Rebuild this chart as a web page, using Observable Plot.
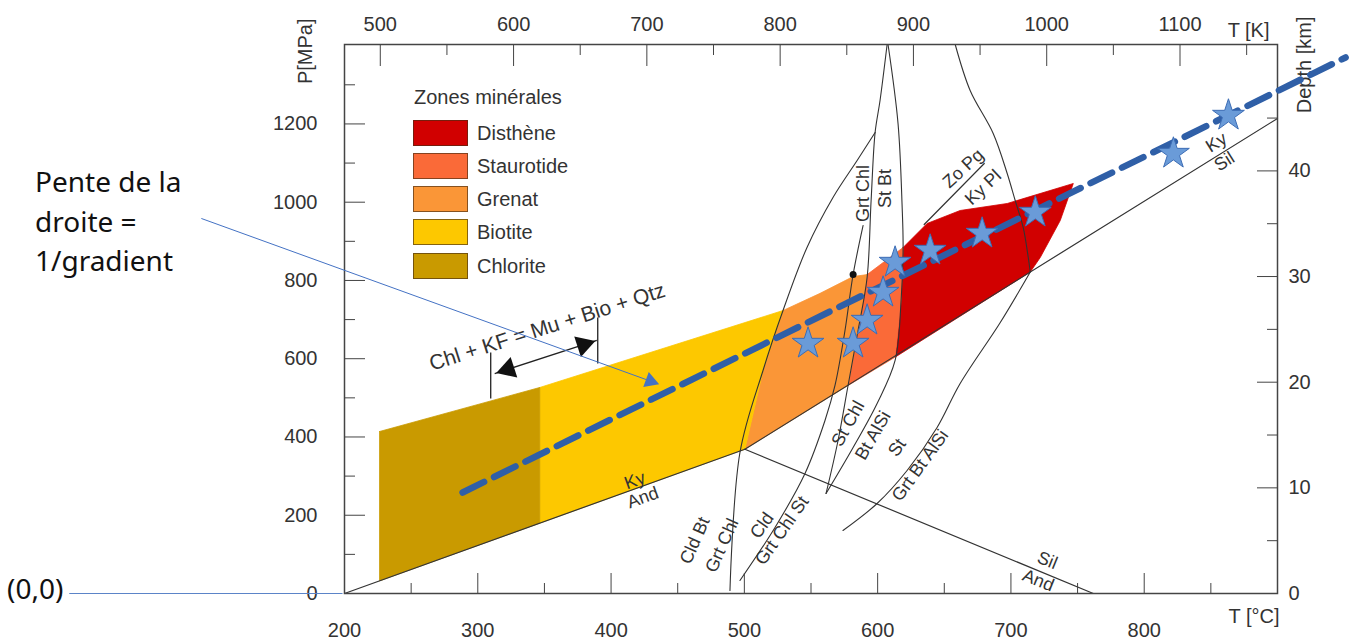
<!DOCTYPE html>
<html><head><meta charset="utf-8">
<script src="https://cdn.jsdelivr.net/npm/d3@7"></script>
<script src="https://cdn.jsdelivr.net/npm/@observablehq/plot@0.6"></script>
<style>
body{margin:0;background:#fff;}
#wrap{position:relative;width:1355px;height:641px;overflow:hidden;background:#fff;}
#wrap svg{position:absolute;left:0;top:0;}
.ann{position:absolute;font-family:'Noto Sans',sans-serif;font-size:28px;color:#111;white-space:nowrap;line-height:39.5px;}
.leg{position:absolute;font-family:'Liberation Sans',Arial,sans-serif;font-size:20px;color:#333;white-space:nowrap;line-height:20px;}
.sw{position:absolute;width:53px;height:24px;border:1px solid rgba(70,45,20,0.65);}
</style></head><body><div id="wrap"></div>
<script>
// ---------- axes ticks ----------
const tMajor = [200, 300, 400, 500, 600, 700, 800];
const tMinor = [250, 350, 450, 550, 650, 750, 850];
const pMajor = [0, 200, 400, 600, 800, 1000, 1200];
const pMinor = [100, 300, 500, 700, 900, 1100, 1300];
const kMajor = [500, 600, 700, 800, 900, 1000, 1100];
const kMinor = [550, 650, 750, 850, 950, 1050, 1150];
const depthMajor = [0, 10, 20, 30, 40];
const depthMinor = [5, 15, 25, 35, 45];
const K0 = 273.15;
const MPA_PER_KM = 27;

// ---------- zones (T °C, P MPa) ----------
const zoneNames = ["Disthène", "Staurotide", "Grenat", "Biotite", "Chlorite"];
const zoneColors = ["#d10000", "#fa6a38", "#fa9637", "#fdc800", "#c99a00"];
const chlorite = [[226.3, 414], [346.5, 526.5], [346.5, 179.8], [226.3, 32.3]];
const biotite = [[346.5, 526.5], [529.0, 723.2], [514.0, 569.9], [500.4, 368.6], [346.5, 179.8]];
const grenat = [[529.0, 723.2], [556.8, 767], [581.6, 810], [592.1, 815], [585.3, 672.1], [577.8, 531.6], [500.4, 368.6], [514.0, 569.9]];
const staurotide = [[592.1, 815], [619.1, 884.2], [617.6, 748.8], [613.1, 604], [577.8, 531.6], [585.3, 672.1]];
const disthene = [[619.1, 884.2], [637.1, 945.6], [661.9, 978.8], [697.2, 996.7], [746.8, 1047.8], [737.0, 953.2], [722.0, 858.7], [714.5, 821.5], [613.1, 604], [617.6, 748.8]];

// ---------- reaction lines ----------
const kyAnd = [[200, 0], [500.4, 368.6]];
const kySil = [[500.4, 368.6], [900, 1214]];
const silAnd = [[500.4, 368.6], [761.8, 0]];
const cldBtGrtChl = [[489.2, 7.7], [496.7, 360.3], [514.0, 569.9], [529.0, 723.2], [547.0, 884.2], [566.5, 1012.0], [584.6, 1106.6], [598.1, 1178.1]];
const cldGrtChlSt = [[496.7, 33.2], [523.0, 168.7], [545.5, 306.7], [560.5, 442.1], [568.0, 531.6], [575.5, 672.1], [581.6, 815.2], [589.1, 940.5]];
const grtChlStBt = [[607.1, 1403], [601.8, 1259.9], [598.1, 1178.1], [595.1, 1004.3], [592.1, 807.6], [585.3, 672.1], [577.8, 531.6], [570.3, 391.0], [561.3, 255.6]];
const stChlBtAlSi = [[561.3, 255.6], [581.6, 373.1], [599.6, 485.6], [613.1, 595.5], [617.6, 748.8], [619.1, 884.2], [618.4, 986.5], [615.3, 1201.1], [607.8, 1403]];
const stGrtBtLow = [[574.0, 161.0], [599.6, 230.0], [622.1, 314.3], [644.6, 424.2], [661.9, 536.7], [692.0, 692.6], [714.5, 821.5]];
const stGrtBtHigh = [[714.5, 821.5], [713.0, 858.7], [709.2, 935.4], [703.2, 1004.3], [697.2, 1073.3], [686.7, 1175.6], [669.4, 1285.5], [658.2, 1403]];
const zoPgKyPl = [[680.0, 1098.9], [634.9, 943.0]];
const invariantPoint = [[581.6, 815.2]];

// ---------- line labels ----------
const labelText = ["Ky", "And", "Ky", "Sil", "Sil", "And", "Cld Bt", "Grt Chl", "Cld", "Grt Chl St", "St Chl", "Bt AlSi", "St", "Grt Bt AlSi", "Grt Chl", "St Bt", "Zo Pg", "Ky Pl"];
const labelT = [417.8, 423.8, 854.2, 860.2, 727.3, 720.5, 462.9, 483.2, 513.2, 528.2, 577.8, 596.6, 614.6, 631.9, 589.1, 605.6, 664.2, 679.2];
const labelP = [288.8, 245.3, 1152.6, 1104.0, 84.3, 33.2, 135.4, 122.7, 173.8, 161.0, 434.4, 403.8, 373.1, 327.1, 1022.2, 1035.0, 1086.1, 1037.6];
const labelAngle = [-20, -20, -32, -32, 22, 22, -66, -66, -55, -55, -61, -60, -55, -54, -90, -90, -43, -43];

// ---------- Chl + KF reaction annotation ----------
const reactionText = "Chl + KF = Mu + Bio + Qtz";
const reactionPos = [[352.1, 681.1]];
const reactionBars = [[309.7, 615.9, 309.7, 498.3], [390.0, 705.3, 390.0, 587.8]];
const reactionArrow = [[312.7, 562.2, 389.3, 646.6]];
const reactionHeads = [[322.7, 573.2, -108], [379.3, 635.6, 72]];

// ---------- samples (stars) and gradient line ----------
const starT = [547.8, 581.6, 592.1, 604.1, 613.1, 639.4, 678.4, 718.3, 821.9, 863.2];
const starP = [638.9, 638.9, 697.7, 769.2, 845.9, 876.6, 920.0, 973.7, 1124.4, 1221.6];
const gradientLine = [[288.6, 258.1], [951.1, 1369.8]];

// ---------- outside annotations ----------
const penteLink = [[92.6, 958.4, 429.5, 542.8]];
const penteHead = [[429.5, 542.8, 110]];
const originLink = [[-6.5, 0, 198.5, 0]];

const close = a => a.concat([a[0]]);
const zonesPolys = [disthene, staurotide, grenat, biotite, chlorite];
const X = d => d[0], Y = d => d[1];
const ink = "#333";

const chart = Plot.plot({
  width: 1355, height: 641,
  marginLeft: 344, marginRight: 78, marginTop: 44, marginBottom: 48,
  x: {domain: [200, 900]},
  y: {domain: [0, 1403]},
  style: {fontFamily: "'Liberation Sans', Arial, sans-serif", fontSize: "20px", color: ink, background: "transparent", overflow: "visible"},
  marks: [
    ...zonesPolys.map((z, i) => Plot.line(close(z), {x: X, y: Y, fill: zoneColors[i], stroke: zoneColors[i], strokeWidth: 0.8})),
    ...[kyAnd, kySil, silAnd, zoPgKyPl].map(l => Plot.line(l, {x: X, y: Y, stroke: ink, strokeWidth: 1.2})),
    ...[cldBtGrtChl, cldGrtChlSt, grtChlStBt, stChlBtAlSi, stGrtBtLow, stGrtBtHigh].map(l => Plot.line(l, {x: X, y: Y, stroke: ink, strokeWidth: 1.1, curve: "catmull-rom"})),
    Plot.dot(invariantPoint, {x: X, y: Y, r: 3.5, fill: "#111"}),
    Plot.text(labelText.map((t, i) => i), {x: i => labelT[i], y: i => labelP[i], text: i => labelText[i], rotate: i => labelAngle[i], fontSize: 18, fill: ink}),
    Plot.text(reactionPos, {x: X, y: Y, text: () => reactionText, rotate: -17.7, fontSize: 21, fill: ink}),
    Plot.link(reactionBars, {x1: d => d[0], y1: d => d[1], x2: d => d[2], y2: d => d[3], stroke: "#222", strokeWidth: 1.3}),
    Plot.link(reactionArrow, {x1: d => d[0], y1: d => d[1], x2: d => d[2], y2: d => d[3], stroke: "#222", strokeWidth: 1.3}),
    Plot.dot(reactionHeads, {x: X, y: Y, rotate: d => d[2], symbol: "triangle", r: 8, fill: "#111", stroke: "none"}),
    Plot.frame({stroke: "#444", strokeWidth: 1.5}),
    // axes
    Plot.axisX(tMajor, {anchor: "bottom", tickSize: -20, tickPadding: 49, tickFormat: d => String(d), label: null, stroke: "#444", fill: ink}),
    Plot.axisX(tMinor, {anchor: "bottom", tickSize: -10, fill: "none", label: null, stroke: "#444"}),
    Plot.axisX(kMajor.map(k => k - K0), {anchor: "top", tickSize: -21, tickPadding: 35, tickFormat: d => String(Math.round(d + K0)), label: null, stroke: "#444", fill: ink}),
    Plot.axisX(kMinor.map(k => k - K0), {anchor: "top", tickSize: -10, fill: "none", label: null, stroke: "#444"}),
    Plot.axisY(pMajor, {anchor: "left", tickSize: -21, tickPadding: 48, tickFormat: d => String(d), label: null, stroke: "#444", fill: ink}),
    Plot.axisY(pMinor, {anchor: "left", tickSize: -11, fill: "none", label: null, stroke: "#444"}),
    Plot.axisY(depthMajor.map(d => d * MPA_PER_KM), {anchor: "right", tickSize: -21, tickPadding: 32, tickFormat: d => String(Math.round(d / MPA_PER_KM)), label: null, stroke: "#444", fill: ink}),
    Plot.axisY(depthMinor.map(d => d * MPA_PER_KM), {anchor: "right", tickSize: -11, fill: "none", label: null, stroke: "#444"}),
    Plot.text(["P[MPa]"], {frameAnchor: "top-left", dx: -47, dy: -26, rotate: -90, textAnchor: "end", text: d => d, fontSize: 20, fill: ink}),
    Plot.text(["Depth [km]"], {frameAnchor: "top-right", dx: 19, dy: -28, rotate: -90, textAnchor: "end", text: d => d, fontSize: 20, fill: ink}),
    Plot.text(["T [K]"], {frameAnchor: "top-right", dx: -8, dy: -22, textAnchor: "end", text: d => d, fontSize: 20, fill: ink}),
    Plot.text(["T [°C]"], {frameAnchor: "bottom-right", dx: 2, dy: 29, textAnchor: "end", text: d => d, fontSize: 20, fill: ink}),
    // gradient line and samples
    Plot.line(gradientLine, {x: X, y: Y, stroke: "#2f5fa7", strokeWidth: 6.5, strokeDasharray: "24,11"}),
    Plot.dot(starT.map((t, i) => i), {x: i => starT[i], y: i => starP[i], symbol: "star", r: 10, fill: "#6a9bd8", stroke: "#3d6db5", strokeWidth: 1}),
    // outside annotations
    Plot.link(penteLink, {x1: d => d[0], y1: d => d[1], x2: d => d[2], y2: d => d[3], stroke: "#4472c4", strokeWidth: 1}),
    Plot.dot(penteHead, {x: X, y: Y, rotate: d => d[2], symbol: "triangle", r: 6, fill: "#4472c4", stroke: "none"}),
    Plot.link(originLink, {x1: d => d[0], y1: d => d[1], x2: d => d[2], y2: d => d[3], stroke: "#5b84c8", strokeWidth: 1.2})
  ]
});
const wrap = document.getElementById("wrap");
wrap.appendChild(chart);

// legend
const lt = document.createElement("div");
lt.className = "leg"; lt.style.left = "414px"; lt.style.top = "87px"; lt.textContent = "Zones minérales";
wrap.appendChild(lt);
const swTops = [120, 153, 186, 219, 253];
zoneNames.forEach((n, i) => {
  const s = document.createElement("div");
  s.className = "sw"; s.style.left = "413px"; s.style.top = swTops[i] + "px"; s.style.background = zoneColors[i];
  wrap.appendChild(s);
  const t = document.createElement("div");
  t.className = "leg"; t.style.left = "477px"; t.style.top = (swTops[i] + 3) + "px"; t.textContent = n;
  wrap.appendChild(t);
});

// annotation texts
const penteLines = ["Pente de la", "droite =", "1/gradient"];
const pa = document.createElement("div");
pa.className = "ann"; pa.style.left = "35px"; pa.style.top = "162px";
pa.innerHTML = penteLines.join("<br>");
wrap.appendChild(pa);
const oa = document.createElement("div");
oa.className = "ann"; oa.style.left = "7px"; oa.style.top = "569px"; oa.textContent = "(0,0)";
wrap.appendChild(oa);
</script></body></html>
